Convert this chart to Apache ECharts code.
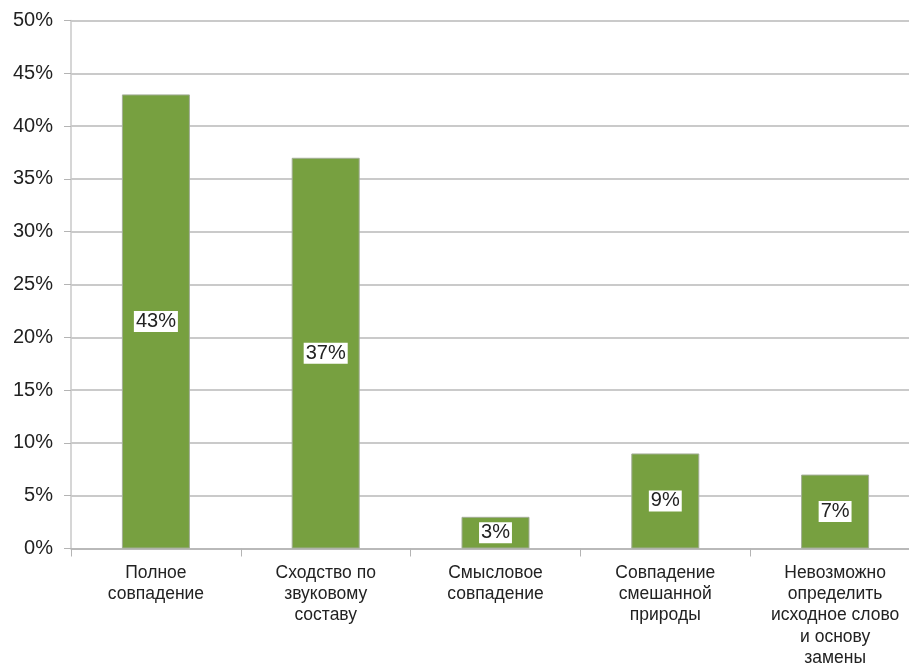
<!DOCTYPE html>
<html>
<head>
<meta charset="utf-8">
<script src="https://cdn.jsdelivr.net/npm/echarts@6/dist/echarts.min.js"></script>
<style>
html,body{margin:0;padding:0;background:#fff;}
#c{width:909px;height:664px;}
</style>
</head>
<body>
<div id="c"></div>
<script>
const categories = [
  'Полное\nсовпадение',
  'Сходство по\nзвуковому\nсоставу',
  'Смысловое\nсовпадение',
  'Совпадение\nсмешанной\nприроды',
  'Невозможно\nопределить\nисходное слово\nи основу\nзамены'
];
const values = [43, 37, 3, 9, 7];
const yTicks = [0, 5, 10, 15, 20, 25, 30, 35, 40, 45, 50];

const chart = echarts.init(document.getElementById('c'), null, {renderer: 'canvas'});
chart.setOption({
  animation: false,
  backgroundColor: '#ffffff',
  textStyle: {fontFamily: 'Liberation Sans, Arial, sans-serif'},
  grid: {left: 71, top: 20.5, height: 528, width: 849, containLabel: false, outerBoundsMode: 'none'},
  xAxis: {
    type: 'category',
    data: categories,
    axisLine: {show: true, lineStyle: {color: '#b4b4b4', width: 1.5}},
    axisTick: {show: true, alignWithLabel: false, length: 8, lineStyle: {color: '#b4b4b4'}},
    axisLabel: {color: '#222222', fontSize: 17.5, lineHeight: 21.2, margin: 14, interval: 0},
    splitLine: {show: false}
  },
  yAxis: {
    type: 'value',
    min: yTicks[0],
    max: yTicks[yTicks.length - 1],
    interval: 5,
    axisLine: {show: true, lineStyle: {color: '#c8c8c8', width: 1.5}},
    axisTick: {show: true, length: 7, lineStyle: {color: '#b4b4b4'}},
    axisLabel: {color: '#222222', fontSize: 20, margin: 18, formatter: v => v + '%'},
    splitLine: {show: true, lineStyle: {color: '#b8b8b8', width: 1.5}}
  },
  series: [{
    type: 'bar',
    data: values,
    barWidth: 68,
    itemStyle: {color: '#77a040', borderColor: '#a3ad96', borderWidth: 1},
    label: {
      show: true,
      position: 'inside',
      formatter: p => p.value + '%',
      color: '#222222',
      fontSize: 20,
      backgroundColor: '#ffffff',
      padding: [1, 2, 0, 2]
    }
  }]
});
</script>
</body>
</html>
